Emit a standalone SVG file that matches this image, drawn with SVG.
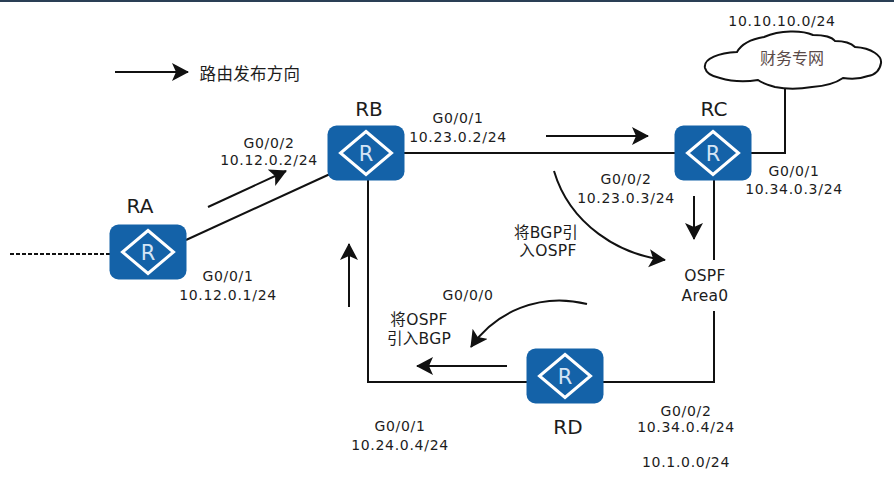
<svg xmlns="http://www.w3.org/2000/svg" width="894" height="500" viewBox="0 0 894 500">
<style>
text{font-family:"DejaVu Sans","Noto Sans CJK SC",sans-serif;font-size:14px;fill:#1c1c1c;text-anchor:middle;letter-spacing:.7px}
.n{font-size:20px;letter-spacing:0}
.z{font-size:15.500px;letter-spacing:.3px}
.l{fill:none;stroke:#111;stroke-width:2}
.a{fill:none;stroke:#111;stroke-width:2;marker-end:url(#h)}
.box{fill:#1462a8}
.d{fill:none;stroke:#fff;stroke-width:3}
.r{fill:#d4e5f5;font-size:21px;letter-spacing:0}
</style>
<defs>
<marker id="h" markerUnits="userSpaceOnUse" markerWidth="20" markerHeight="20" refX="16" refY="9" orient="auto"><path d="M0 0L17 9L0 18L4 9Z" fill="#111"/></marker>
<g id="router"><rect class="box" x="-38.500" y="-27.500" width="77" height="55" rx="9"/><path class="d" d="M0-21.500L25.500 0L0 21.500L-25.500 0Z"/><text class="r" y="7.500">R</text></g>
</defs>
<rect width="894" height="500" fill="#fff"/>
<rect width="894" height="2" fill="#2a3f55"/>
<g id="connectors">
<path class="l" d="M10 254H110" stroke-dasharray="4 2"/>
<path class="l" d="M186 240L330 174"/>
<path class="l" d="M404 153H675"/>
<path class="l" d="M750 153H785V87"/>
<path class="l" d="M714 180V260M714 311V382H603"/>
<path class="l" d="M527 382H368V180"/>
<path class="a" d="M115 72H188"/>
<path class="a" d="M208 207L286 171"/>
<path class="a" d="M546 136H648"/>
<path class="a" d="M694 196V239"/>
<path class="a" d="M349 307V244"/>
<path class="a" d="M507 366H417"/>
<path class="a" d="M554 171C570 225 620 255 665 260"/>
<path class="a" d="M587 304C540 292 495 312 471 347"/>
</g>
<g id="cloud"><path d="M705 68C703 58 720 53 737 52C742 43 752 39 764 37C780 30 802 30 813 35C824 35 832 37 835 41C845 41 851 43 855 47C872 48 882 56 881 63C880 70 875 75 868 76C860 79 850 79 843 78C836 83 825 86 812 87C800 89 785 89 775 87C768 85 762 83 758 80C745 82 730 81 720 78C710 76 706 72 705 68Z" fill="#fff" stroke="#111" stroke-width="2"/><text x="792" y="64" style="font-size:16px;fill:#5a4a48;letter-spacing:0">财务专网</text></g>
<g id="RA"><use href="#router" x="148" y="252"/><text class="n" x="140" y="213">RA</text></g>
<g id="RB"><use href="#router" x="366" y="153"/><text class="n" x="369" y="116">RB</text></g>
<g id="RC"><use href="#router" x="713" y="153"/><text class="n" x="714" y="116">RC</text></g>
<g id="RD"><use href="#router" x="565" y="376"/><text class="n" x="568" y="434">RD</text></g>
<text x="250" y="80" style="font-size:16.500px;letter-spacing:.3px">路由发布方向</text>
<text x="269" y="148">G0/0/2</text><text x="269" y="165">10.12.0.2/24</text>
<text x="228" y="281">G0/0/1</text><text x="228" y="300">10.12.0.1/24</text>
<text x="458" y="123">G0/0/1</text><text x="458" y="142">10.23.0.2/24</text>
<text x="626" y="184">G0/0/2</text><text x="626" y="203">10.23.0.3/24</text>
<text x="794" y="176">G0/0/1</text><text x="794" y="194">10.34.0.3/24</text>
<text x="782" y="26">10.10.10.0/24</text>
<text class="z" x="546" y="238">将BGP引</text><text class="z" x="548" y="256">入OSPF</text>
<text class="z" x="705" y="281">OSPF</text><text class="z" x="705" y="301">Area0</text>
<text x="468" y="300">G0/0/0</text>
<text class="z" x="419" y="325">将OSPF</text><text class="z" x="419" y="344">引入BGP</text>
<text x="400" y="431">G0/0/1</text><text x="400" y="450">10.24.0.4/24</text>
<text x="686" y="416">G0/0/2</text><text x="686" y="432">10.34.0.4/24</text>
<text x="686" y="467">10.1.0.0/24</text>
</svg>
